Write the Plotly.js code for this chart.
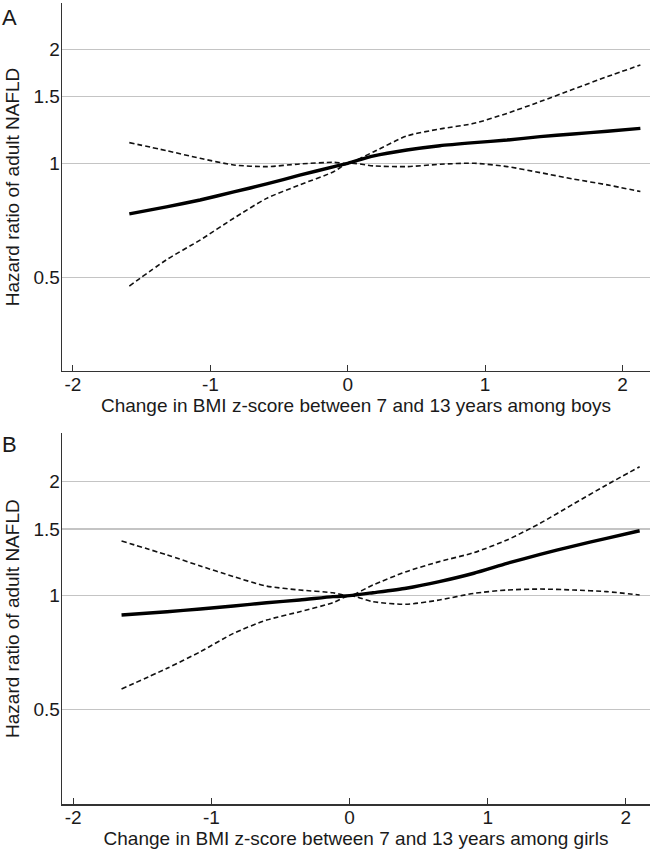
<!DOCTYPE html>
<html>
<head>
<meta charset="utf-8">
<script src="https://cdn.plot.ly/plotly-3.0.1.min.js"></script>
<style>html,body{margin:0;padding:0;background:#fff;}#chart{width:653px;height:854px;}</style>
</head>
<body>
<div id="chart"></div>
<script>
// Panel A (boys)
const xA = [-1.59, -1.32, -1.075, -0.83, -0.59, -0.35, -0.10, 0, 0.19, 0.43, 0.67, 0.92, 1.16, 1.40, 1.64, 1.89, 2.13];
const hrA = [0.735, 0.767, 0.80, 0.84, 0.882, 0.93, 0.98, 1.0, 1.046, 1.084, 1.113, 1.134, 1.152, 1.176, 1.195, 1.215, 1.237];
const upperA = [1.134, 1.08, 1.031, 0.99, 0.98, 0.996, 1.006, 1.0, 1.073, 1.181, 1.232, 1.275, 1.355, 1.455, 1.568, 1.694, 1.818];
const lowerA = [0.474, 0.556, 0.627, 0.716, 0.808, 0.877, 0.951, 1.0, 0.984, 0.980, 0.994, 1.0, 0.98, 0.945, 0.909, 0.877, 0.842];

// Panel B (girls)
const xB = [-1.65, -1.32, -1.08, -0.84, -0.60, -0.36, -0.12, 0, 0.17, 0.41, 0.65, 0.90, 1.14, 1.38, 1.62, 1.86, 2.10];
const hrB = [0.889, 0.907, 0.922, 0.939, 0.958, 0.974, 0.994, 1.0, 1.018, 1.046, 1.089, 1.146, 1.217, 1.286, 1.352, 1.417, 1.484];
const upperB = [1.394, 1.281, 1.198, 1.123, 1.06, 1.035, 1.018, 1.0, 1.067, 1.157, 1.23, 1.299, 1.403, 1.553, 1.746, 1.96, 2.19];
const lowerB = [0.567, 0.643, 0.711, 0.795, 0.862, 0.907, 0.958, 1.0, 0.964, 0.949, 0.974, 1.014, 1.035, 1.041, 1.035, 1.025, 1.004];

const xTicks = [-2, -1, 0, 1, 2];
const xTickText = ["-2", "-1", "0", "1", "2"];
const yTicks = [0.5, 1, 1.5, 2];
const yTickText = ["0.5", "1", "1.5", "2"];
const panelLabels = ["A", "B"];
const xTitles = ["Change in BMI z-score between 7 and 13 years among boys",
                 "Change in BMI z-score between 7 and 13 years among girls"];
const yTitle = "Hazard ratio of adult NAFLD";

const FONT = '"Liberation Sans", Arial, Helvetica, sans-serif';
const TXT = '#1a1a1a';

function solid(x, y, xa, ya) {
  return {x: x, y: y, xaxis: xa, yaxis: ya, mode: 'lines', type: 'scatter',
    line: {color: '#000', width: 3.4, shape: 'spline', smoothing: 0.6}, hoverinfo: 'skip'};
}
function dashed(x, y, xa, ya) {
  return {x: x, y: y, xaxis: xa, yaxis: ya, mode: 'lines', type: 'scatter',
    line: {color: '#111', width: 1.6, dash: '5px,3px', shape: 'spline', smoothing: 0.7}, hoverinfo: 'skip'};
}

const data = [
  dashed(xA, upperA, 'x', 'y'), dashed(xA, lowerA, 'x', 'y'), solid(xA, hrA, 'x', 'y'),
  dashed(xB, upperB, 'x2', 'y2'), dashed(xB, lowerB, 'x2', 'y2'), solid(xB, hrB, 'x2', 'y2')
];

function xaxisDef(range, title, anchor) {
  return {
    domain: [62/653, 650/653], anchor: anchor, range: range,
    tickmode: 'array', tickvals: xTicks, ticktext: xTickText, ticks: 'inside', ticklen: 6, tickwidth: 1, tickcolor: '#333',
    ticklabelstandoff: -4,
    showline: true, linecolor: '#333', linewidth: 1.3, showgrid: false, zeroline: false,
    tickfont: {family: FONT, size: 19, color: TXT},
    title: {text: title, font: {family: FONT, size: 19, color: TXT}, standoff: 4},
    automargin: false, fixedrange: true
  };
}
function yaxisDef(domain, range, anchor) {
  return {
    type: 'log', domain: domain, anchor: anchor, range: range,
    tickmode: 'array', tickvals: yTicks, ticktext: yTickText, ticks: '',
    ticklabelstandoff: -3,
    showline: true, linecolor: '#333', linewidth: 1.3,
    showgrid: true, gridcolor: '#c4c4c4', gridwidth: 1.4, zeroline: false,
    tickfont: {family: FONT, size: 19, color: TXT},
    title: {text: yTitle, font: {family: FONT, size: 19, color: TXT}, standoff: 8},
    automargin: false, fixedrange: true
  };
}

const layout = {
  width: 653, height: 854,
  margin: {l: 0, r: 0, t: 0, b: 0},
  paper_bgcolor: '#fff', plot_bgcolor: '#fff',
  showlegend: false,
  font: {family: FONT, color: TXT},
  xaxis: xaxisDef([-2.08, 2.2], xTitles[0], 'y'),
  yaxis: yaxisDef([1 - 371/854, 1 - 3/854], [-0.5485, 0.4233], 'x'),
  xaxis2: xaxisDef([-2.081, 2.175], xTitles[1], 'y2'),
  yaxis2: yaxisDef([1 - 804.3/854, 1 - 433/854], [-0.551, 0.4296], 'x2'),
  annotations: [
    {text: panelLabels[0], xref: 'paper', yref: 'paper', x: 0, y: 1 - 3/854, xanchor: 'left', yanchor: 'top',
     showarrow: false, font: {family: FONT, size: 22, color: TXT}},
    {text: panelLabels[1], xref: 'paper', yref: 'paper', x: 0, y: 1 - 430/854, xanchor: 'left', yanchor: 'top',
     showarrow: false, font: {family: FONT, size: 22, color: TXT}}
  ]
};

Plotly.newPlot('chart', data, layout, {displayModeBar: false, staticPlot: true});
</script>
</body>
</html>
